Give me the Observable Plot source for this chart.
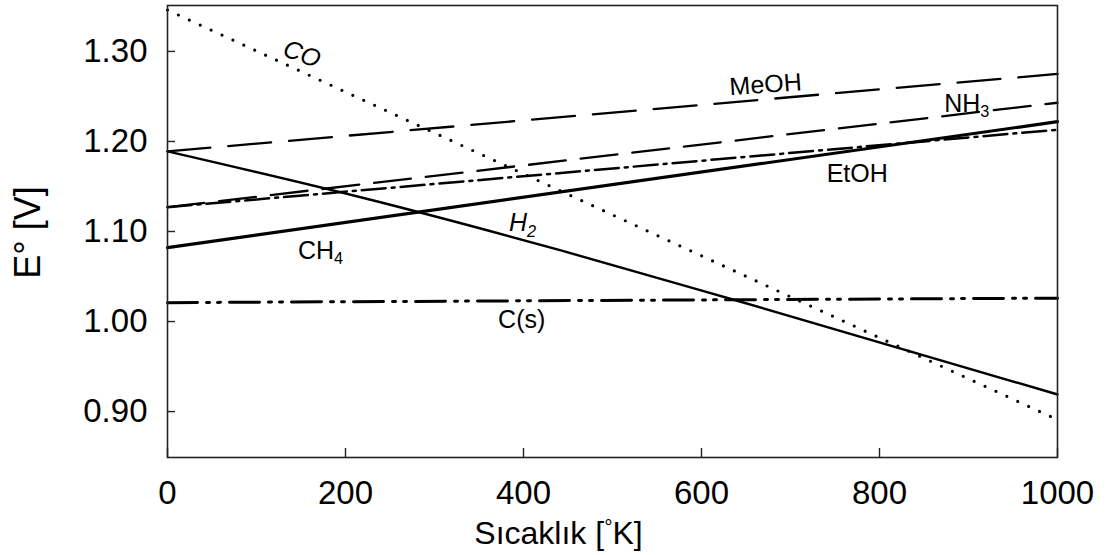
<!DOCTYPE html>
<html><head><meta charset="utf-8">
<script src="https://cdn.jsdelivr.net/npm/d3@7"></script>
<script src="https://cdn.jsdelivr.net/npm/@observablehq/plot@0.6"></script>
<style>body{margin:0;background:#fff}svg{display:block}</style>
</head><body><div id="chart"></div>
<script>
// ---- data ----
const temperature = [0, 1000];
const seriesNames = ["CO", "MeOH", "NH3", "EtOH", "CH4", "H2", "C(s)"];
const coValues   = [1.346, 0.891];
const meohValues = [1.189, 1.275];
const nh3Values  = [1.127, 1.243];
const etohValues = [1.127, 1.213];
const ch4Values  = [1.082, 1.222];
const csValues   = [1.021, 1.026];
// H2 is slightly curved: read at several temperatures
const h2Temperature = [0, 217, 442, 644, 1000];
const h2Values      = [1.189, 1.138, 1.079, 1.022, 0.919];
const xTicks = [0, 200, 400, 600, 800, 1000];
const yTicks = [0.90, 1.00, 1.10, 1.20, 1.30];
const yDomain = [0.849, 1.351];
const xDomain = [0, 1000];

// series labels (T, E°, text, rotation)
const labelText   = ["CO", "MeOH", "NH_3", "EtOH", "CH_4", "H_2", "C(s)"];
const labelT      = [151, 672, 898, 775, 172, 399, 398];
const labelE      = [1.2970, 1.263, 1.2419, 1.1641, 1.0786, 1.1096, 1.0020];
const labelRotate = [20, -4, 0, 0, 0, 0, 0];
const labelItalic = [true, false, false, false, false, true, false];

// ---- styles ----
const styles = {
  "CO":   {strokeWidth: 3.2, strokeDasharray: "0,12", strokeLinecap: "round"},
  "MeOH": {strokeWidth: 2.3, strokeDasharray: "43,18"},
  "NH3":  {strokeWidth: 2.3, strokeDasharray: "37,15"},
  "EtOH": {strokeWidth: 2.5, strokeDasharray: "24,6,3,6"},
  "CH4":  {strokeWidth: 3.2},
  "H2":   {strokeWidth: 2.4, curve: "monotone-x"},
  "C(s)": {strokeWidth: 3, strokeDasharray: "30,9,3,8,3,9"}
};
const valuesByName = {"CO": coValues, "MeOH": meohValues, "NH3": nh3Values, "EtOH": etohValues,
  "CH4": ch4Values, "H2": h2Values, "C(s)": csValues};
const tempsByName = {"H2": h2Temperature};

const lineMarks = seriesNames.map(name => {
  const ts = tempsByName[name] || temperature;
  const rows = ts.map((t, i) => ({T: t, E: valuesByName[name][i]}));
  return Plot.line(rows, {x: "T", y: "E", stroke: "#000", ...styles[name]});
});

const labels = labelText.map((t, i) => ({text: t, T: labelT[i], E: labelE[i], r: labelRotate[i], it: labelItalic[i]}));

// inward tick lengths, as a fraction of the domains (9px / 8px)
const tickLenY = (yDomain[1] - yDomain[0]) * 9 / 452;
const tickLenX = (xDomain[1] - xDomain[0]) * 8 / 890;

const svg = Plot.plot({
  width: 1107, height: 555,
  marginLeft: 167, marginRight: 50, marginTop: 5, marginBottom: 98,
  style: {fontFamily: "'Liberation Sans', Arial, sans-serif", background: "#fff", color: "#000"},
  x: {domain: xDomain},
  y: {domain: yDomain},
  marks: [
    ...lineMarks,
    Plot.frame({stroke: "#222", strokeWidth: 1.6}),
    Plot.axisX(xTicks, {tickSize: 0, tickPadding: 23, fontSize: 33, label: null, tickFormat: d3.format("d"), fill: "#000"}),
    Plot.axisY(yTicks, {tickSize: 0, tickPadding: 20, fontSize: 33, label: null, tickFormat: d3.format(".2f"), fill: "#000"}),
    Plot.ruleX(xTicks, {x: d => d, y1: yDomain[0], y2: yDomain[0] + tickLenY, stroke: "#222", strokeWidth: 1.4}),
    Plot.ruleY(yTicks, {y: d => d, x1: xDomain[0], x2: xDomain[0] + tickLenX, stroke: "#222", strokeWidth: 1.4}),
    Plot.text(labels.filter(d => !d.it), {x: "T", y: "E", text: "text", rotate: "r", fontSize: 25, fill: "#000"}),
    Plot.text(labels.filter(d => d.it), {x: "T", y: "E", text: "text", rotate: "r", fontSize: 25, fontStyle: "italic", fill: "#000"}),
    Plot.text(["Sıcaklık [^°K]"], {frameAnchor: "bottom", textAnchor: "middle", lineAnchor: "middle", dx: -54, dy: 76, fontSize: 32, fill: "#000"}),
    Plot.text(["E° [V]"], {frameAnchor: "left", textAnchor: "middle", lineAnchor: "middle", dx: -139, dy: 1, rotate: -90, fontSize: 36, fill: "#000"})
  ]
});

// sub/superscript post-processing: "_x" => subscript, "^x" => superscript
d3.select(svg).selectAll("text").each(function() {
  if (this.querySelector("tspan")) return;
  const t = this.textContent;
  if (!/[_^]/.test(t)) return;
  const parts = t.split(/([_^].)/).filter(s => s.length);
  this.textContent = "";
  let shift = 0;
  for (const p of parts) {
    const ts = document.createElementNS("http://www.w3.org/2000/svg", "tspan");
    if (p[0] === "_" || p[0] === "^") {
      const s = p[0] === "_" ? 0.35 : -0.45;
      ts.setAttribute("dy", (s - shift) + "em");
      shift = s;
      ts.setAttribute("font-size", "65%");
      ts.textContent = p.slice(1);
    } else {
      if (shift !== 0) {
        ts.setAttribute("dy", (-shift * 0.65) + "em");
        shift = 0;
      }
      ts.textContent = p;
    }
    this.appendChild(ts);
  }
});

document.getElementById("chart").appendChild(svg);
</script>
</body></html>
